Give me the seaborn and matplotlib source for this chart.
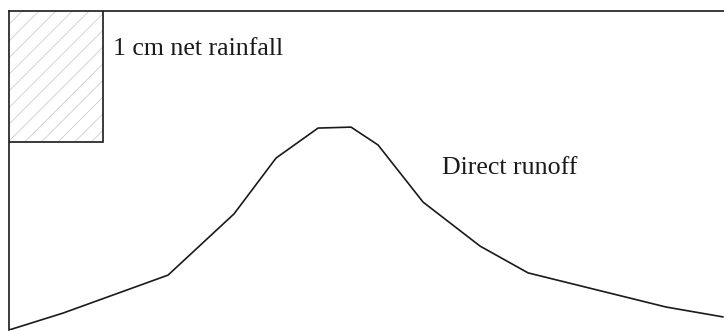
import matplotlib
matplotlib.use("Agg")
import matplotlib.pyplot as plt
import seaborn as sns
import pandas as pd

# Direct runoff hydrograph (time in h, discharge in arbitrary units)
time_h = [0, 1.8, 5.3, 7.5, 8.9, 10.3, 11.4, 12.3, 13.8, 15.7, 17.3, 21.9, 23.8]
discharge = [0, 5.3, 17.2, 36.4, 53.9, 63.3, 63.6, 58.0, 40.1, 26.3, 17.9, 7.2, 4.1]

# Net rainfall block: duration and vertical extent
rain_duration = 3.13
rain_bottom = 58.9
rain_top = 100.0

labels = ["1 cm net rainfall", "Direct runoff"]

sns.set_style("white")
plt.rcParams["font.family"] = ["Liberation Serif", "DejaVu Serif"]
plt.rcParams["hatch.linewidth"] = 0.5

fig = plt.figure(figsize=(7.24, 3.31), dpi=100)
ax = fig.add_axes([9 / 724, 1 / 331, 1 - 9 / 724, 1 - 12 / 331])

df = pd.DataFrame({"t": time_h, "q": discharge})
sns.lineplot(data=df, x="t", y="q", ax=ax, color="#1a1a1a", linewidth=1.2)

# light hatched fill, then the black outline on top
ax.bar(0, rain_top - rain_bottom, bottom=rain_bottom, width=rain_duration,
       align="edge", facecolor="white", edgecolor="#c4c4c4", linewidth=0,
       hatch="//", zorder=3)
ax.bar(0, rain_top - rain_bottom, bottom=rain_bottom, width=rain_duration,
       align="edge", fill=False, edgecolor="#1a1a1a", linewidth=1.2, zorder=4)

ax.text(3.47, 86.2, labels[0], fontsize=18.6, va="baseline", ha="left",
        color="#1a1a1a")
ax.text(14.43, 48.9, labels[1], fontsize=18.6, va="baseline", ha="left",
        color="#1a1a1a")

ax.set_xlim(0, 23.83)
ax.set_ylim(0, 100)
ax.set_xticks([])
ax.set_yticks([])
ax.set_xlabel("")
ax.set_ylabel("")
for side in ("bottom", "right"):
    ax.spines[side].set_visible(False)
for side in ("left", "top"):
    ax.spines[side].set_color("#1a1a1a")
    ax.spines[side].set_linewidth(1.2)

fig.savefig("out.png", dpi=100)
